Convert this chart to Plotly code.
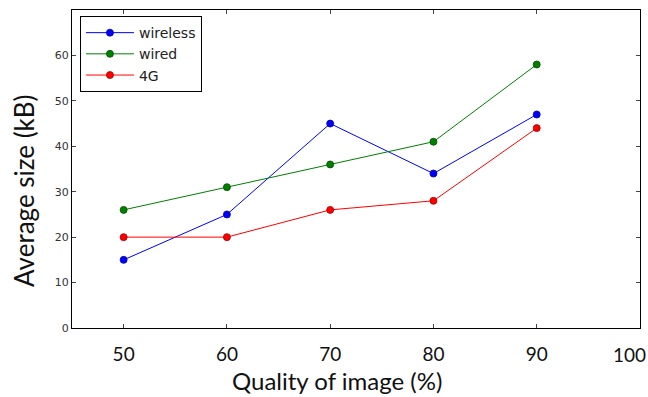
import plotly.graph_objects as go

quality = [50, 60, 70, 80, 90]
wireless = [15, 25, 45, 34, 47]
wired = [26, 31, 36, 41, 58]
g4 = [20, 20, 26, 28, 44]
x_ticks = [50, 60, 70, 80, 90, 100]
x_tick_labels = ["50", "60", "70", "80", "90", ""]
y_ticks = [0, 10, 20, 30, 40, 50, 60]
x_title = "Quality of image (%)"
y_title = "Average size (kB)"

fig = go.Figure()
series = [("wireless", wireless, "#0000ff", "#0000a0"),
          ("wired", wired, "#008000", "#004d00"),
          ("4G", g4, "#ff0000", "#a00000")]
for name, vals, col, edge in series:
    fig.add_trace(go.Scatter(
        x=quality, y=vals, name=name, mode="lines+markers",
        line=dict(color=col, width=1),
        marker=dict(color=col, size=7, line=dict(color=edge, width=0.8)),
    ))

fig.update_layout(
    width=648, height=397,
    margin=dict(l=72, r=8, t=10, b=69),
    paper_bgcolor="white", plot_bgcolor="white",
    font=dict(family="DejaVu Sans", color="#222"),
    legend=dict(x=0.014, y=0.981, xanchor="left", yanchor="top",
                bordercolor="black", borderwidth=1, bgcolor="white",
                font=dict(family="DejaVu Sans", size=14, color="#222"),
                tracegroupgap=0, itemwidth=48),
    showlegend=True,
)
fig.update_xaxes(
    range=[45, 100], tickvals=x_ticks, ticktext=x_tick_labels,
    ticks="inside", ticklen=4,
    tickcolor="#444", mirror="ticks", showline=True, linecolor="black",
    linewidth=1, showgrid=False, zeroline=False, automargin=False,
    tickfont=dict(family="Lato", size=19, color="#111"),
    ticklabelstandoff=9, ticklabeloverflow="allow",
)
fig.update_yaxes(
    range=[0, 70], tickvals=y_ticks, ticks="inside", ticklen=4,
    tickcolor="#444", mirror="ticks", showline=True, linecolor="black",
    linewidth=1, showgrid=False, zeroline=False, automargin=False,
    tickfont=dict(family="DejaVu Sans", size=11, color="#333"),
)
# last x tick label, kept inside the picture as in the reference
fig.add_annotation(x=x_ticks[-1], xref="x", y=0, yref="y", text="100",
                   showarrow=False, xanchor="right", yanchor="top",
                   xshift=8, yshift=-13,
                   font=dict(family="Lato", size=19, color="#111"))
fig.add_annotation(x=0.4665, xref="paper", y=-0.165, yref="paper",
                   text=x_title, showarrow=False, xanchor="center",
                   yanchor="middle",
                   font=dict(family="Lato", size=24, color="#111"))
fig.add_annotation(x=-0.0845, xref="paper", y=0.431, yref="paper",
                   text=y_title, showarrow=False, textangle=-90,
                   xanchor="center", yanchor="middle",
                   font=dict(family="Lato", size=26, color="#111"))

fig.write_html("out.html", config={"displayModeBar": False},
               post_script="document.body.style.margin='0';")
